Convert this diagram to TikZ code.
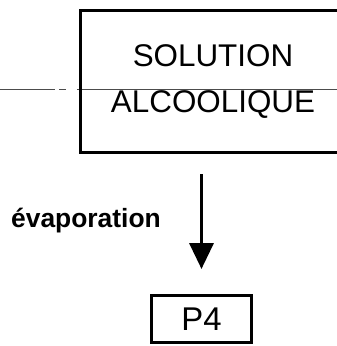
\documentclass[tikz,border=0pt]{standalone}
\usepackage{fontspec}
\setmainfont{Liberation Sans}
\usetikzlibrary{arrows.meta,positioning}

\begin{document}
\begin{tikzpicture}[
  x=1bp, y=-1bp,
  >={Triangle[length=26bp,width=24bp]},
  bigbox/.style={draw, line width=3.5bp, align=center, inner sep=0pt, outer sep=0pt,
                 minimum width=265bp, minimum height=142bp,
                 font=\fontsize{31.5}{47}\selectfont},
  prodbox/.style={draw, line width=3bp, inner sep=0pt, outer sep=0pt,
                 minimum width=100bp, minimum height=47.5bp,
                 font=\fontsize{33}{38}\selectfont},
  flow/.style={->, line width=3.5bp},
  lbl/.style={font=\fontsize{26.5}{30}\selectfont\bfseries, inner sep=0pt},
  scanline/.style={line width=0.6bp, draw=black!70,
                   dash pattern=on 55bp off 4bp on 7bp off 11bp on 300bp},
]
\useasboundingbox (0,0) rectangle (337,346);
\clip (0,0) rectangle (337,346);

% ---- thin rule across the page ----
\draw[scanline] (0,89) -- (337,89);

% ---- starting solution (box runs off the right edge) ----
\node[bigbox] (sol) at (213,81.5) {SOLUTION\\ALCOOLIQUE};

% ---- product ----
\node[prodbox] (p4) at (201.5,318.75) {P4};

% ---- step ----
\draw[flow, shorten <=21.5bp, shorten >=26bp] (p4.north |- sol.south) -- (p4.north);
\node[lbl, anchor=base east] (evap) at (161,227) {évaporation};
\end{tikzpicture}
\end{document}
